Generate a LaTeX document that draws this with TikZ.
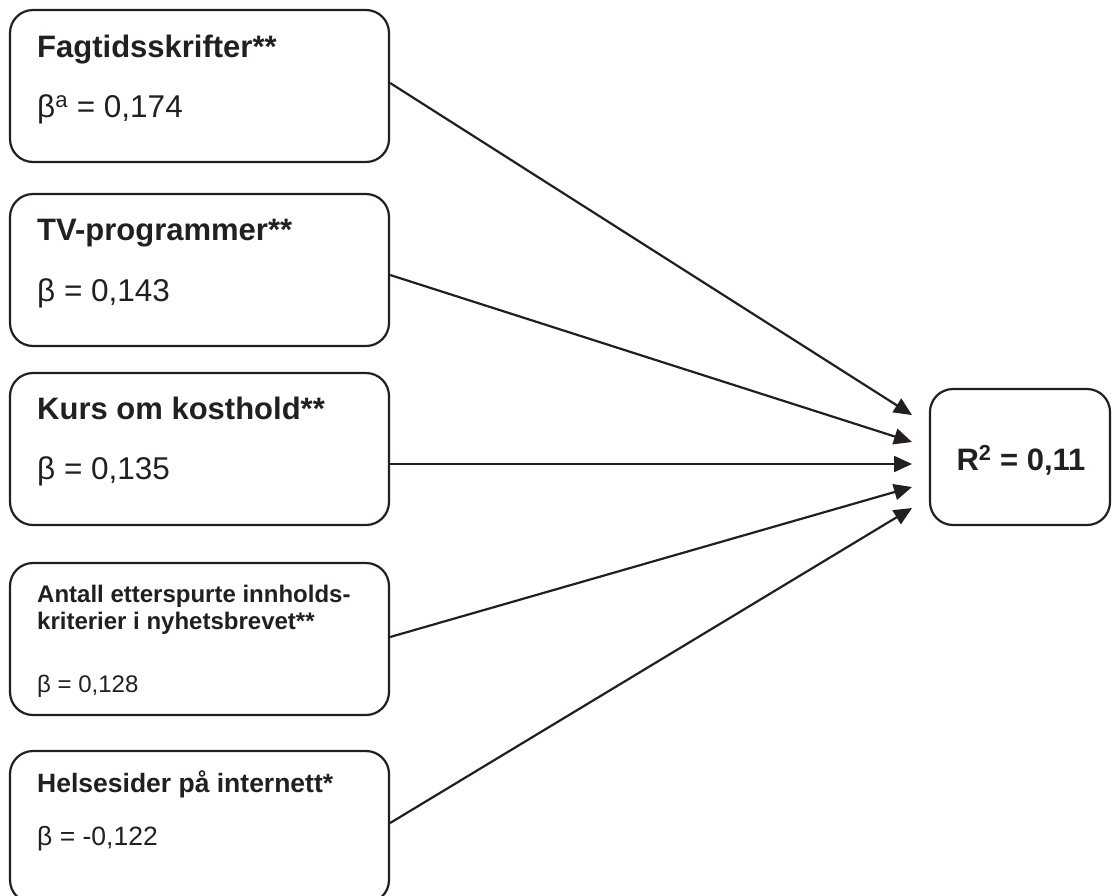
\documentclass[tikz,border=0pt]{standalone}
\usepackage{fontspec}
\setmainfont{Liberation Sans}
\usetikzlibrary{arrows.meta}
\definecolor{ink}{RGB}{35,31,32}
\begin{document}
\begin{tikzpicture}[x=1pt,y=-1pt,
  box/.style={draw=ink, line width=2.2pt, rounded corners=23pt, rectangle, inner sep=0pt},
  srcbox/.style={box, minimum width=379pt, minimum height=152pt},
  head/.style={anchor=base west, inner sep=0pt, text=ink, font=\fontsize{31}{36}\selectfont\bfseries},
  coef/.style={anchor=base west, inner sep=0pt, text=ink, font=\fontsize{31.5}{36}\selectfont},
  smallhead/.style={anchor=base west, inner sep=0pt, text=ink, font=\fontsize{24}{27}\selectfont\bfseries},
  smallcoef/.style={anchor=base west, inner sep=0pt, text=ink, font=\fontsize{24}{27}\selectfont},
  midhead/.style={anchor=base west, inner sep=0pt, text=ink, font=\fontsize{26.5}{30}\selectfont\bfseries},
  midcoef/.style={anchor=base west, inner sep=0pt, text=ink, font=\fontsize{26.5}{30}\selectfont},
  link/.style={draw=ink, line width=2.2pt, -{Triangle[length=18pt,width=16pt]}}
]
\useasboundingbox (0,0) rectangle (1119,895);

% predictor boxes
\node[srcbox] (b1) at (199.5,86) {};
\node[srcbox] (b2) at (199.5,270) {};
\node[srcbox] (b3) at (199.5,449) {};
\node[srcbox] (b4) at (199.5,639) {};
\node[srcbox] (b5) at (199.5,827) {};

% outcome box
\node[box, minimum width=180pt, minimum height=136pt] (r) at (1020,457) {};

% labels
\node[head] (h1) at (37,57) {Fagtidsskrifter**};
\node[coef] (c1) at (37,117) {β\textsuperscript{a} = 0,174};
\node[head] (h2) at (37,240) {TV-programmer**};
\node[coef] (c2) at (37,301) {β = 0,143};
\node[head] (h3) at (37,419) {Kurs om kosthold**};
\node[coef] (c3) at (37,479) {β = 0,135};
\node[smallhead] (h4a) at (37,602) {Antall etterspurte innholds-};
\node[smallhead] (h4b) at (37,629) {kriterier i nyhetsbrevet**};
\node[smallcoef] (c4) at (37,692) {β = 0,128};
\node[midhead] (h5) at (37,792) {Helsesider på internett*};
\node[midcoef] (c5) at (37,845) {β = -0,122};
\node[anchor=base, inner sep=0pt, text=ink, font=\fontsize{31}{36}\selectfont\bfseries] (rt) at (1021,470) {R\textsuperscript{2} = 0,11};

% arrow tips in front of the outcome box
\coordinate (t1) at (912,415);
\coordinate (t2) at (912,442);
\coordinate (t3) at (912,464);
\coordinate (t4) at (912,487);
\coordinate (t5) at (912,508);

% paths
\draw[link] ([yshift=3pt]b1.east) -- (t1);
\draw[link] ([yshift=-5pt]b2.east) -- (t2);
\draw[link] ([yshift=-15pt]b3.east) -- (t3);
\draw[link] ([yshift=2pt]b4.east) -- (t4);
\draw[link] ([yshift=4pt]b5.east) -- (t5);
\end{tikzpicture}
\end{document}
